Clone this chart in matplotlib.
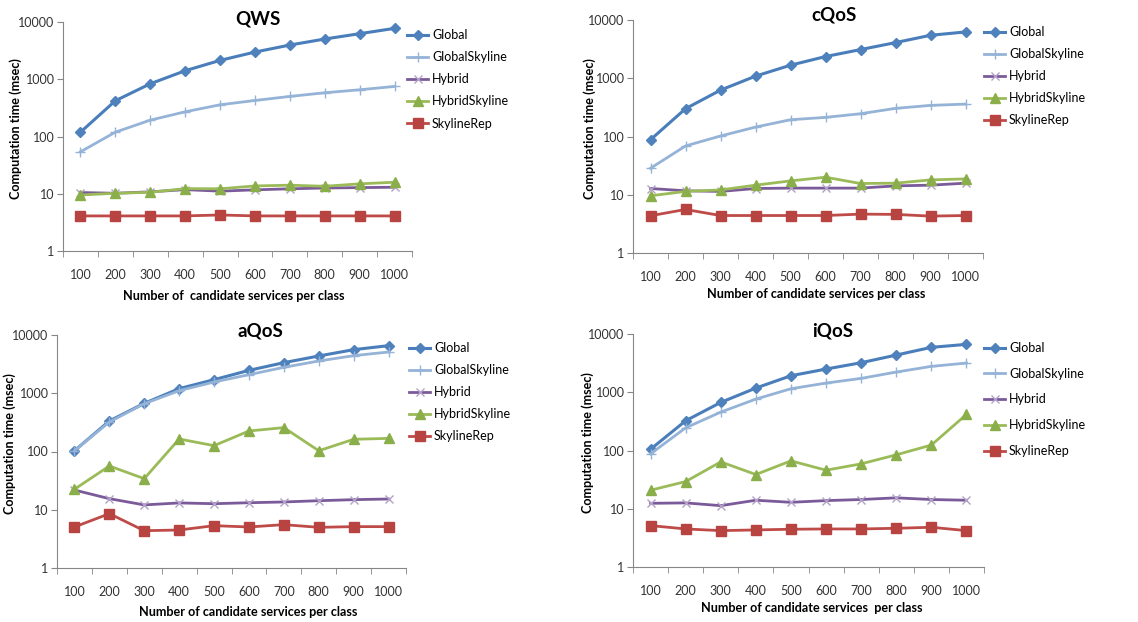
import numpy as np
import matplotlib.pyplot as plt
from matplotlib.ticker import FixedLocator, NullLocator, FuncFormatter

plt.rcParams['font.family'] = ['Lato', 'DejaVu Sans']

sizes = [100, 200, 300, 400, 500, 600, 700, 800, 900, 1000]
series_names = ['Global', 'GlobalSkyline', 'Hybrid', 'HybridSkyline', 'SkylineRep']

qws_global = [119, 421, 834, 1409, 2135, 2985, 3960, 5045, 6250, 7740]
qws_global_sky = [54, 119, 193, 270, 358, 426, 501, 581, 655, 749]
qws_hybrid = [10.5, 10.2, 10.8, 11.8, 11.1, 11.7, 12.2, 12.6, 12.8, 13.0]
qws_hybrid_sky = [9.5, 10.2, 10.6, 12.3, 12.2, 13.7, 14.1, 13.5, 14.9, 15.9]
qws_rep = [4.1, 4.1, 4.1, 4.1, 4.26, 4.1, 4.1, 4.1, 4.1, 4.1]

cqos_global = [88, 300, 625, 1087, 1675, 2357, 3106, 4092, 5466, 6235]
cqos_global_sky = [28.5, 68.8, 102, 145, 194, 213, 246, 304, 342, 360]
cqos_hybrid = [12.8, 11.7, 11.4, 12.8, 13.0, 13.0, 13.0, 14.2, 14.6, 15.8]
cqos_hybrid_sky = [9.6, 11.4, 12.1, 14.6, 17.3, 20.0, 15.6, 15.8, 18.0, 18.7]
cqos_rep = [4.36, 5.59, 4.4, 4.4, 4.4, 4.4, 4.65, 4.6, 4.3, 4.4]

aqos_global = [103, 334, 671, 1199, 1710, 2472, 3350, 4362, 5602, 6560]
aqos_global_sky = [103, 321, 662, 1107, 1560, 2084, 2786, 3580, 4420, 5107]
aqos_hybrid = [21.8, 15.5, 12.1, 13.1, 12.7, 13.2, 13.6, 14.3, 14.9, 15.3]
aqos_hybrid_sky = [22.5, 56.4, 34.2, 164, 126, 225, 257, 103, 162, 168]
aqos_rep = [5.06, 8.57, 4.37, 4.49, 5.33, 5.06, 5.55, 4.99, 5.13, 5.13]

iqos_global = [105, 324, 669, 1180, 1921, 2502, 3214, 4351, 5900, 6640]
iqos_global_sky = [87.7, 245, 456, 763, 1149, 1437, 1730, 2222, 2782, 3171]
iqos_hybrid = [12.4, 12.6, 11.3, 14.0, 12.9, 13.8, 14.4, 15.4, 14.4, 14.0]
iqos_hybrid_sky = [20.8, 29.3, 63.8, 38.7, 66.4, 45.9, 59.0, 84.3, 124, 416]
iqos_rep = [5.14, 4.50, 4.21, 4.33, 4.45, 4.50, 4.50, 4.62, 4.81, 4.21]

panels = [
    ('QWS', [qws_global, qws_global_sky, qws_hybrid, qws_hybrid_sky, qws_rep],
     'Number of  candidate services per class'),
    ('cQoS', [cqos_global, cqos_global_sky, cqos_hybrid, cqos_hybrid_sky, cqos_rep],
     'Number of candidate services per class'),
    ('aQoS', [aqos_global, aqos_global_sky, aqos_hybrid, aqos_hybrid_sky, aqos_rep],
     'Number of candidate services per class'),
    ('iQoS', [iqos_global, iqos_global_sky, iqos_hybrid, iqos_hybrid_sky, iqos_rep],
     'Number of candidate services  per class'),
]

# line style per series
styles = [
    dict(color='#4A7EBB', marker='D', mfc='#4F81BD', mec='#4F81BD', ms=5.5, lw=2.2),
    dict(color='#95B3D7', marker='+', mfc='#95B3D7', mec='#95B3D7', ms=7, lw=2.0, mew=1.0),
    dict(color='#7B5A9A', marker='x', mfc='#B3A2C7', mec='#B3A2C7', ms=6, lw=2.0, mew=1.0),
    dict(color='#9BBB59', marker='^', mfc='#8AAE4A', mec='#8AAE4A', ms=7, lw=2.0),
    dict(color='#BE4B48', marker='s', mfc='#B84442', mec='#B84442', ms=7, lw=2.0),
]

W, H = 1138, 622
fig = plt.figure(figsize=(W / 100, H / 100), dpi=100)

# pixel boxes: left, top, right, bottom
boxes = [(63, 22, 412, 251), (633, 20, 983, 253), (57, 335, 406, 568), (633, 334, 984, 567)]
title_pos = [(258, 19), (834, 15), (260, 331), (833, 331)]
xlabel_pos = [(234, 296), (816, 294), (248, 612), (812, 608)]
ylabel_x = [16, 590, 10, 588]
legend_pos = [(407, 29, 0.81), (984, 26, 0.81), (409, 342, 0.81), (984, 342, 1.1)]

x = np.arange(1, len(sizes) + 1)
for i, (name, data, xlab) in enumerate(panels):
    l, t, r, b = boxes[i]
    ax = fig.add_axes([l / W, 1 - b / H, (r - l) / W, (b - t) / H])
    for vals, st, lab in zip(data, styles, series_names):
        ax.plot(x, vals, label=lab, **st)
    ax.set_yscale('log')
    ax.set_ylim(1, 10000)
    ax.set_xlim(0.5, len(sizes) + 0.5)
    ax.yaxis.set_major_locator(FixedLocator([1, 10, 100, 1000, 10000]))
    ax.yaxis.set_minor_locator(NullLocator())
    ax.yaxis.set_major_formatter(FuncFormatter(lambda v, p: '%d' % v))
    ax.set_xticks(x)
    ax.set_xticklabels([str(s) for s in sizes])
    ax.set_xticks(np.arange(0.5, len(sizes) + 1), minor=True)
    ax.tick_params(axis='x', which='major', length=0, pad=13, labelsize=9, colors='#333333')
    ax.tick_params(axis='x', which='minor', length=4, color='#868686')
    ax.tick_params(axis='y', length=4, color='#868686', labelsize=9, labelcolor='#333333', pad=2)
    for s in ['top', 'right']:
        ax.spines[s].set_visible(False)
    for s in ['left', 'bottom']:
        ax.spines[s].set_color('#868686')
    tx, ty = title_pos[i]
    fig.text(tx / W, 1 - ty / H, name, ha='center', va='center', fontsize=13.5, fontweight='bold')
    lx, ly = xlabel_pos[i]
    fig.text(lx / W, 1 - ly / H, xlab, ha='center', va='center', fontsize=9.1, fontweight='bold')
    fig.text(ylabel_x[i] / W, 1 - ((t + b) / 2 - 8) / H, 'Computation time (msec)',
             ha='center', va='center', rotation=90, fontsize=9.1, fontweight='bold')
    gx, gy, sp = legend_pos[i]
    fig.legend(*ax.get_legend_handles_labels(), loc='upper left',
               bbox_to_anchor=(gx / W, 1 - gy / H), frameon=False, fontsize=9,
               borderpad=0, borderaxespad=0, handlelength=1.7, handletextpad=0.3,
               labelspacing=sp)

fig.savefig('out.png', dpi=100)
